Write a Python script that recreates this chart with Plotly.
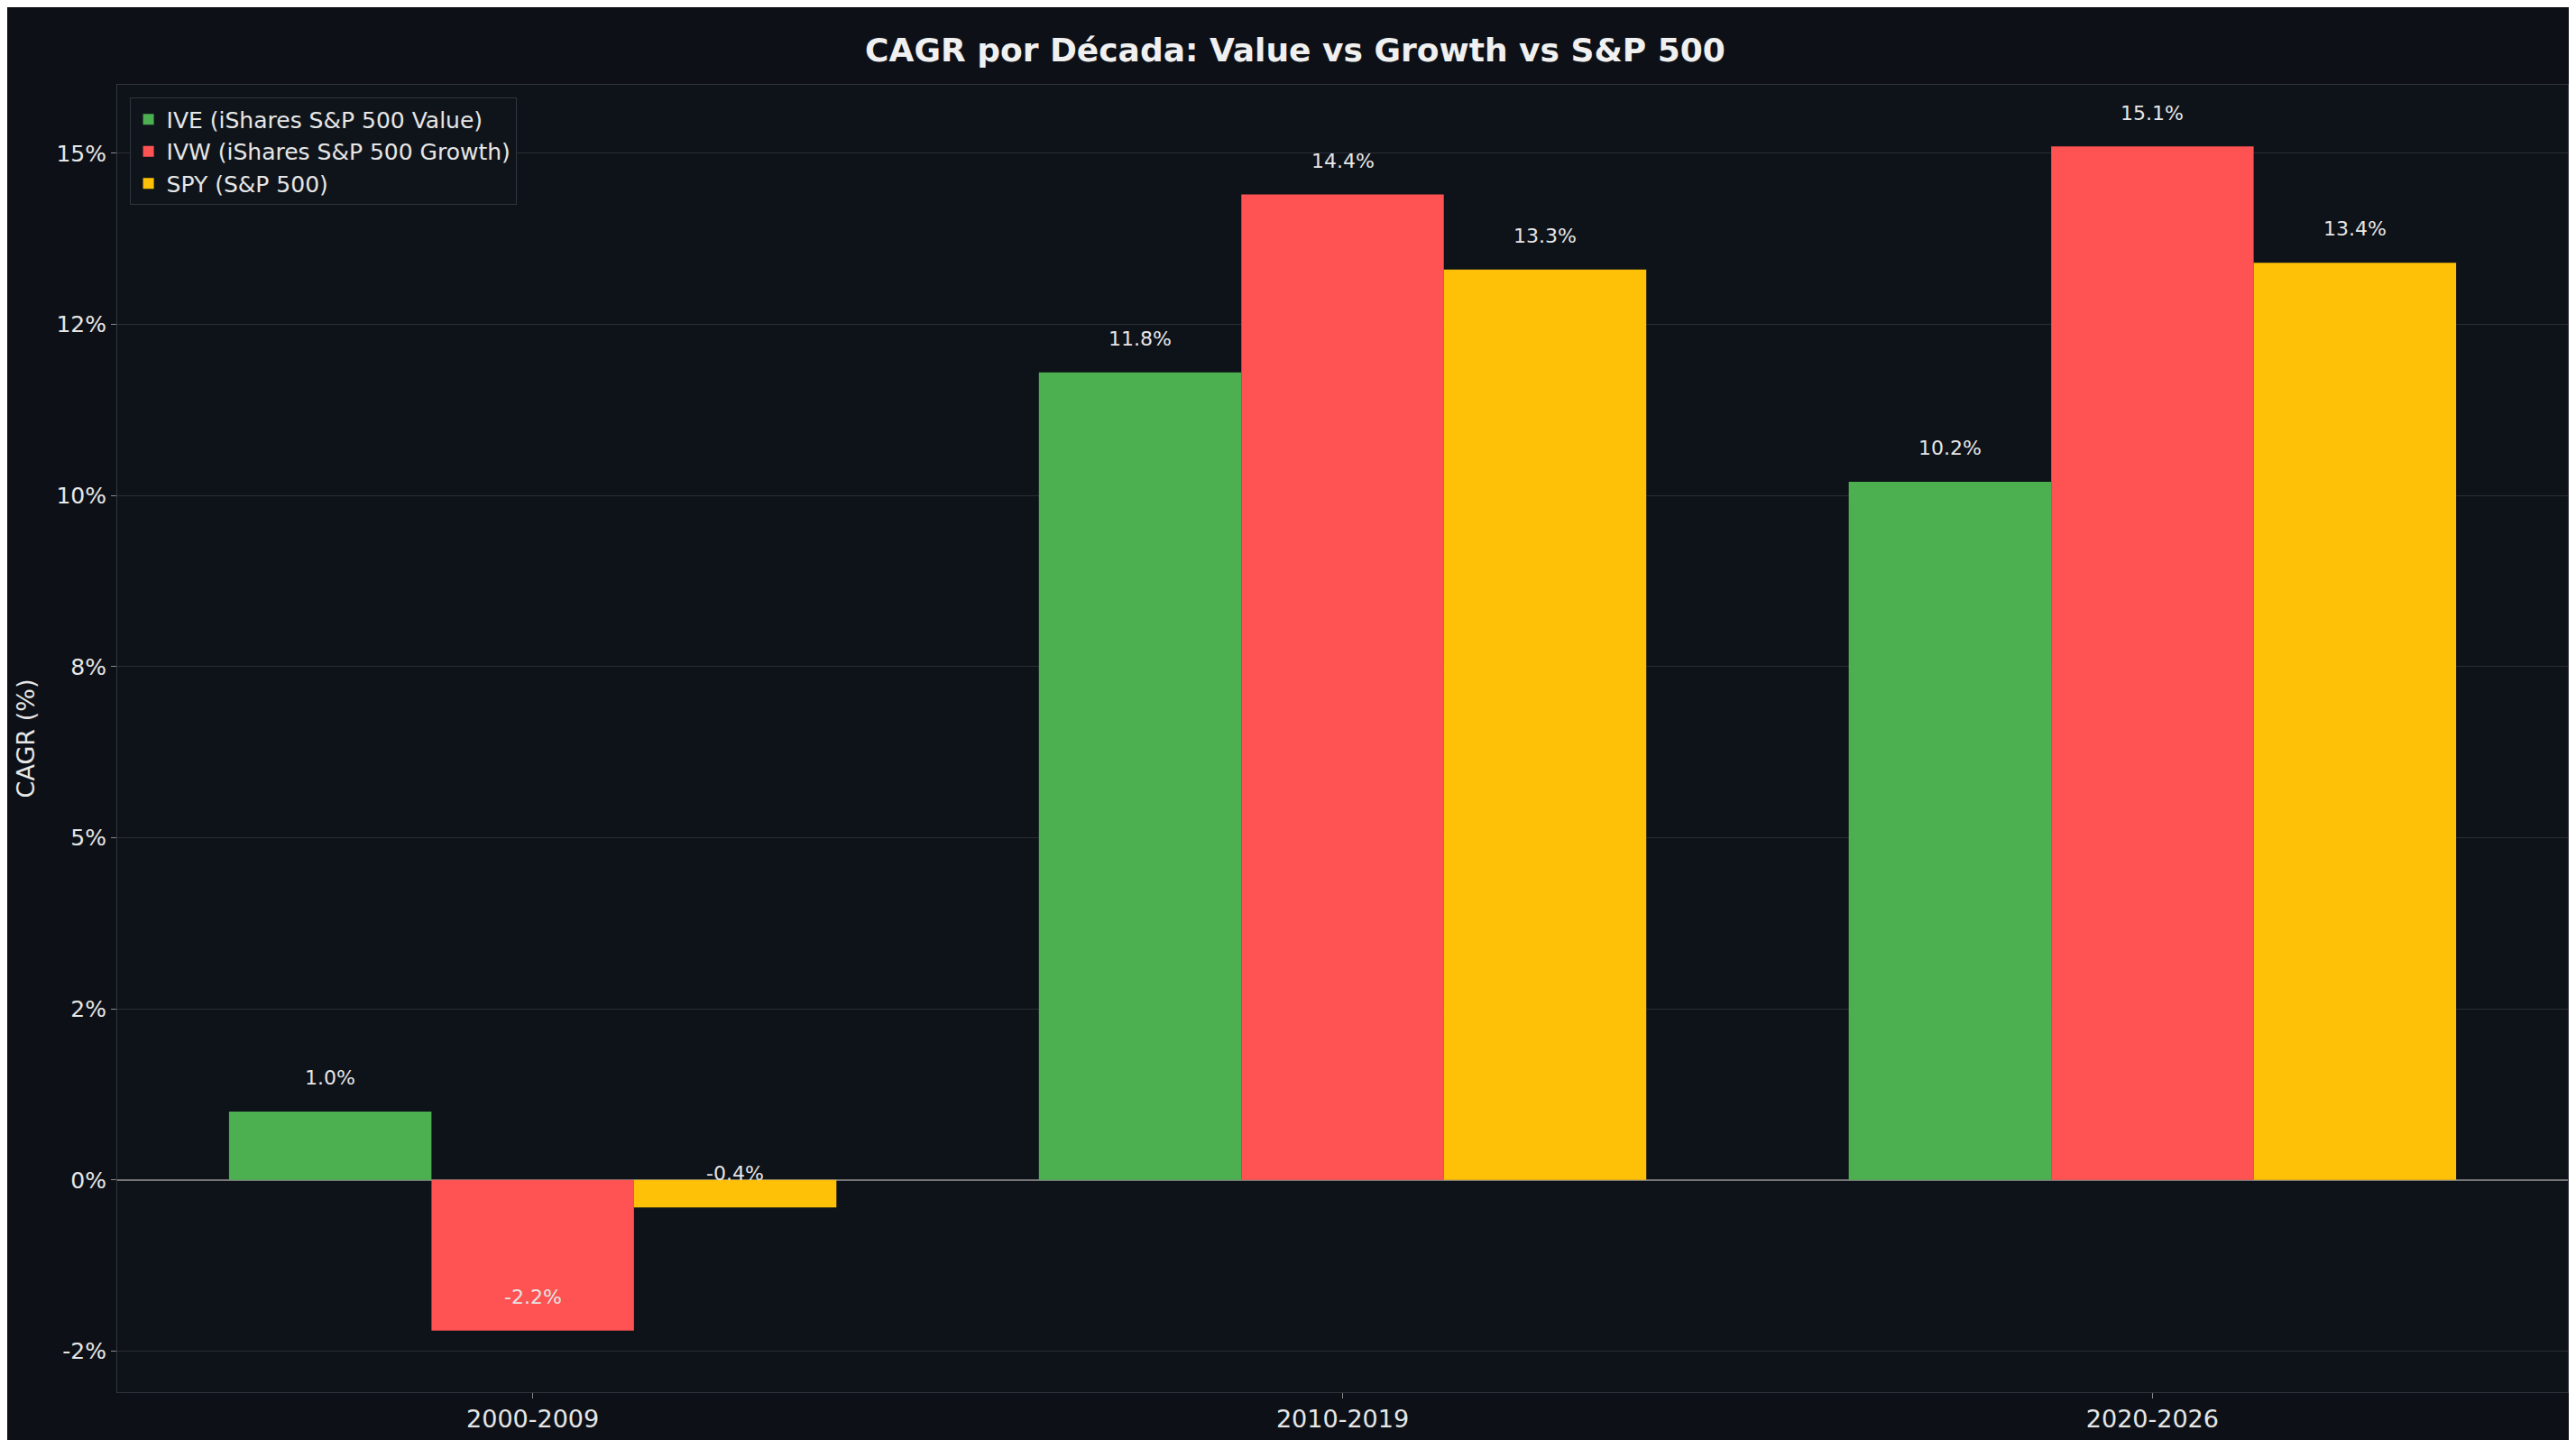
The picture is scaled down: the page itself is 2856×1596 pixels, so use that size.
import plotly.graph_objects as go

decades = ["2000-2009", "2010-2019", "2020-2026"]
series_names = ["IVE (iShares S&P 500 Value)", "IVW (iShares S&P 500 Growth)", "SPY (S&P 500)"]
ive = [1.0, 11.8, 10.2]
ivw = [-2.2, 14.4, 15.1]
spy = [-0.4, 13.3, 13.4]
colors = ["#4caf50", "#ff5252", "#ffc107"]
tick_vals = [-2.5, 0, 2.5, 5, 7.5, 10, 12.5, 15]
tick_text = ["-2%", "0%", "2%", "5%", "8%", "10%", "12%", "15%"]

fig = go.Figure()
offsets = [-0.25, 0, 0.25]
for name, vals, col, off in zip(series_names, [ive, ivw, spy], colors, offsets):
    fig.add_trace(go.Bar(x=list(range(len(decades))), y=vals, name=name, marker_color=col,
                         marker_line_width=0, width=0.25, offset=off - 0.125))
    for i, v in enumerate(vals):
        fig.add_annotation(x=i + off, y=v + 0.3, text=f"{v:.1f}%", showarrow=False,
                           yanchor="bottom", font=dict(size=22, color="#e6e6e6"))

fig.update_layout(
    width=2856, height=1596,
    paper_bgcolor="#0d1117", plot_bgcolor="#0e1219",
    font=dict(family="DejaVu Sans", color="#e6e6e6"),
    title=dict(text="<b>CAGR por Década: Value vs Growth vs S&P 500</b>", x=0.5, xanchor="center",
               y=0.978, font=dict(size=36, color="#f0f0f0")),
    margin=dict(l=122, r=17, t=86, b=61),
    barmode="overlay",
    showlegend=True,
    legend=dict(x=0.005, y=0.99, xanchor="left", yanchor="top", bgcolor="#0f141b",
                bordercolor="#30363d", borderwidth=1, font=dict(size=25, color="#e6e6e6")),
    xaxis=dict(tickmode="array", tickvals=[0, 1, 2], ticktext=decades, range=[-0.513, 2.513],
               showgrid=False, zeroline=False, tickfont=dict(size=27), ticks="outside",
               ticklen=6, tickcolor="#888", showline=True, linecolor="#30363d", mirror=True),
    yaxis=dict(tickmode="array", tickvals=tick_vals, ticktext=tick_text, range=[-3.1, 16.0],
               gridcolor="rgba(255,255,255,0.12)", zeroline=True, zerolinecolor="#777",
               zerolinewidth=2, tickfont=dict(size=25), ticks="outside", ticklen=6, tickcolor="#888",
               showline=True, linecolor="#30363d", mirror=True,
               title=dict(text="CAGR (%)", font=dict(size=27))),
)
fig.write_html("out.html")
